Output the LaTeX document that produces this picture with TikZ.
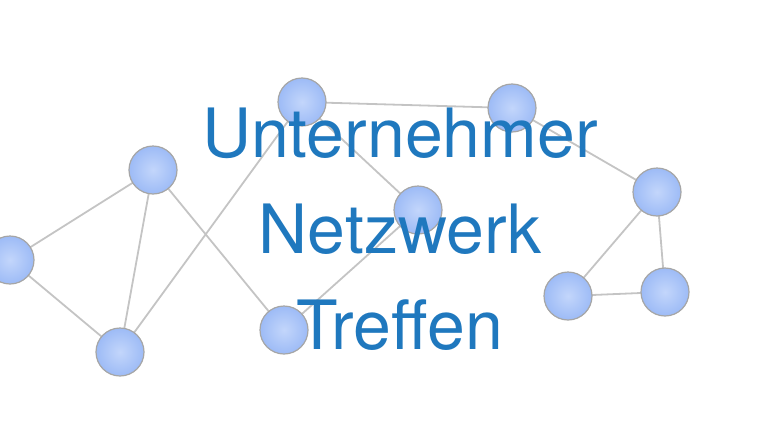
\documentclass[tikz,border=0pt]{standalone}
\usepackage{fontspec}
\setmainfont{TeX Gyre Heros}
\definecolor{edge}{HTML}{C4C4C4}
\definecolor{txt}{HTML}{1F78BE}
\definecolor{nfill}{HTML}{9DBBF6}
\definecolor{nlight}{HTML}{C3D6FB}
\begin{document}
\begin{tikzpicture}[x=1pt,y=-1pt,
  nd/.style={circle,minimum size=48pt,inner sep=0pt,draw=gray!70,line width=1.2pt,
    inner color=nlight,outer color=nfill},
  ed/.style={draw=edge,line width=1.8pt},
  lbl/.style={text=txt,font=\fontsize{68}{68}\selectfont}]
\useasboundingbox (0,0) rectangle (768,442);
\coordinate (a) at (10,260);
\coordinate (b) at (153,170);
\coordinate (c) at (120,352);
\coordinate (d) at (302,102);
\coordinate (e) at (512,108);
\coordinate (f) at (418,210);
\coordinate (g) at (284,330);
\coordinate (h) at (657,192);
\coordinate (i) at (568,296);
\coordinate (j) at (665,292);
\path[ed] (a)--(b) (a)--(c) (b)--(c) (b)--(g) (c)--(d) (d)--(e) (d)--(f) (f)--(g)
  (e)--(h) (h)--(i) (h)--(j) (i)--(j);
\node[nd] (na) at (a) {};\node[nd] (nb) at (b) {};\node[nd] (nc) at (c) {};\node[nd] (nd) at (d) {};
\node[nd] (ne) at (e) {};\node[nd] (nf) at (f) {};\node[nd] (ng) at (g) {};\node[nd] (nh) at (h) {};
\node[nd] (ni) at (i) {};\node[nd] (nj) at (j) {};
\node[lbl] (t1) at (400,133) {Unternehmer};
\node[lbl] (t2) at (400,229) {Netzwerk};
\node[lbl] (t3) at (400,325) {Treffen};
\end{tikzpicture}
\end{document}
